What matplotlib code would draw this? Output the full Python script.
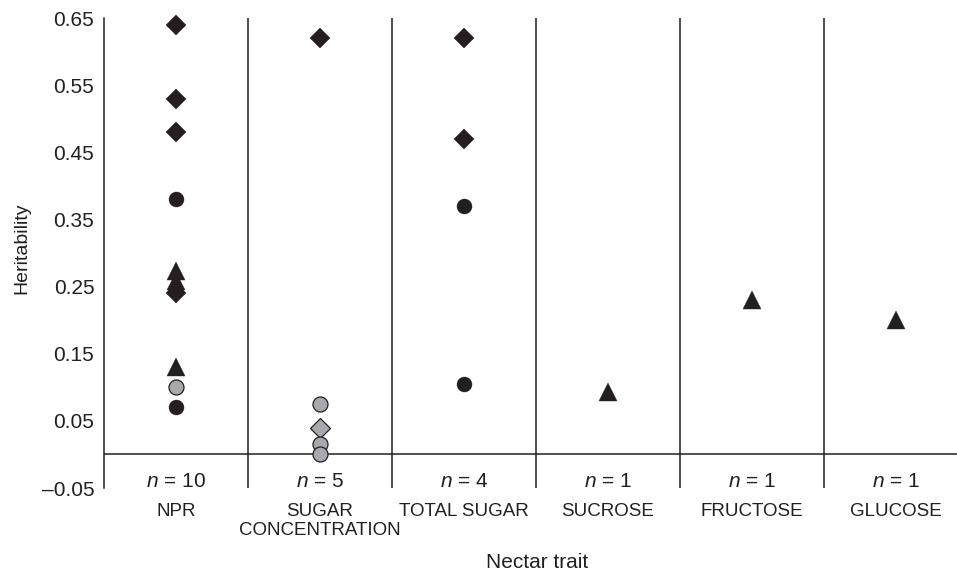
import matplotlib.pyplot as plt

plt.rcParams['font.family'] = ['Liberation Sans', 'DejaVu Sans']
plt.rcParams['mathtext.fontset'] = 'custom'
plt.rcParams['mathtext.it'] = 'Liberation Sans:italic'
plt.rcParams['mathtext.rm'] = 'Liberation Sans'

traits = ['NPR', 'SUGAR\nCONCENTRATION', 'TOTAL SUGAR', 'SUCROSE', 'FRUCTOSE', 'GLUCOSE']
n_studies = [10, 5, 4, 1, 1, 1]

# heritability estimates, grouped by column and marker type
npr_diamond = [0.64, 0.53, 0.48, 0.24]
npr_circle = [0.38, 0.07]
npr_triangle = [0.273, 0.258, 0.13]
npr_grey_circle = [0.10]
conc_diamond = [0.62]
conc_grey_diamond = [0.04]
conc_grey_circle = [0.075, 0.015, 0.0]
total_diamond = [0.62, 0.47]
total_circle = [0.37, 0.105]
sucrose_triangle = [0.093]
fructose_triangle = [0.23]
glucose_triangle = [0.20]

yticks = [0.65, 0.55, 0.45, 0.35, 0.25, 0.15, 0.05, -0.05]

ink = '#231f20'
grey = '#a7a9ac'

groups = [
    (0, npr_diamond, 'D', ink),
    (0, npr_circle, 'o', ink),
    (0, npr_triangle, '^', ink),
    (0, npr_grey_circle, 'o', grey),
    (1, conc_diamond, 'D', ink),
    (1, conc_grey_diamond, 'D', grey),
    (1, conc_grey_circle, 'o', grey),
    (2, total_diamond, 'D', ink),
    (2, total_circle, 'o', ink),
    (3, sucrose_triangle, '^', ink),
    (4, fructose_triangle, '^', ink),
    (5, glucose_triangle, '^', ink),
]
sizes = {'D': 9.8, 'o': 10.8, '^': 12.5}

fig = plt.figure(figsize=(9.57, 5.75), dpi=100)
ax = fig.add_axes([104 / 957, 1 - 488 / 575, 1 - 104 / 957, (488 - 18) / 575])

ax.set_xlim(0, (957 - 104) / 144)
ax.set_ylim(-0.05, 0.65)

# column separators and the zero line
for i in range(1, len(traits)):
    ax.axvline(i, color=ink, lw=1.1)
ax.axhline(0, color=ink, lw=1.1)

for col, vals, mk, col_color in groups:
    ax.plot([col + 0.5] * len(vals), vals, ls='none', marker=mk,
            ms=sizes[mk], mfc=col_color, mec=ink,
            mew=0.9 if col_color == grey else 0.3, zorder=3, clip_on=False)

for i, n in enumerate(n_studies):
    ax.text(i + 0.5, -0.040, r'$\it{n}$ = %d' % n, ha='center', va='center',
            fontsize=15, color=ink)

for side in ['top', 'right', 'bottom']:
    ax.spines[side].set_visible(False)
ax.spines['left'].set_color(ink)
ax.spines['left'].set_linewidth(1.1)

ax.set_yticks(yticks)
ax.set_yticklabels([('%.2f' % v).replace('-', '\u2013') for v in yticks])
ax.tick_params(axis='y', length=0, pad=7, labelsize=15, labelcolor=ink)
ax.set_xticks([i + 0.5 for i in range(len(traits))])
ax.set_xticklabels(traits)
ax.tick_params(axis='x', length=0, pad=11, labelsize=13.5, labelcolor=ink)
for lbl in ax.get_xticklabels():
    lbl.set_linespacing(1.1)

fig.text(22 / 957, 1 - 248 / 575, 'Heritability', rotation=90, ha='center',
         va='center', fontsize=14, color=ink)
fig.text(537 / 957, 1 - 563 / 575, 'Nectar trait', ha='center', va='center',
         fontsize=15, color=ink)

fig.savefig('out.png', dpi=100)
